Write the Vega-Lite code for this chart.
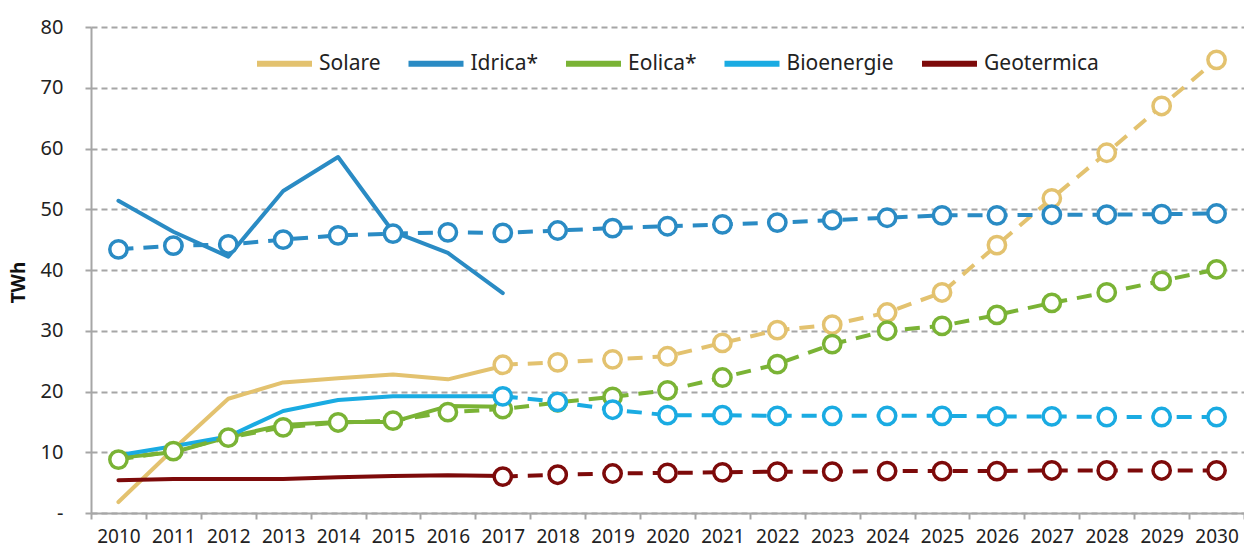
{
  "$schema": "https://vega.github.io/schema/vega-lite/v6.json",
  "width": 1153,
  "height": 486,
  "autosize": {"type": "none"},
  "padding": {"left": 91, "top": 27, "right": 0, "bottom": 37},
  "background": "white",
  "config": {
    "view": {"stroke": null},
    "font": "Noto Sans"
  },
  "datasets": {
    "hist": [
      {"year": "2010", "series": "Solare", "value": 1.8},
      {"year": "2011", "series": "Solare", "value": 10.5},
      {"year": "2012", "series": "Solare", "value": 18.8},
      {"year": "2013", "series": "Solare", "value": 21.5},
      {"year": "2014", "series": "Solare", "value": 22.2},
      {"year": "2015", "series": "Solare", "value": 22.8},
      {"year": "2016", "series": "Solare", "value": 22.0},
      {"year": "2017", "series": "Solare", "value": 24.2},
      {"year": "2010", "series": "Idrica*", "value": 51.4},
      {"year": "2011", "series": "Idrica*", "value": 46.3},
      {"year": "2012", "series": "Idrica*", "value": 42.2},
      {"year": "2013", "series": "Idrica*", "value": 53.0},
      {"year": "2014", "series": "Idrica*", "value": 58.6},
      {"year": "2015", "series": "Idrica*", "value": 46.3},
      {"year": "2016", "series": "Idrica*", "value": 42.8},
      {"year": "2017", "series": "Idrica*", "value": 36.2},
      {"year": "2010", "series": "Eolica*", "value": 9.1},
      {"year": "2011", "series": "Eolica*", "value": 10.0},
      {"year": "2012", "series": "Eolica*", "value": 12.5},
      {"year": "2013", "series": "Eolica*", "value": 14.5},
      {"year": "2014", "series": "Eolica*", "value": 15.0},
      {"year": "2015", "series": "Eolica*", "value": 15.0},
      {"year": "2016", "series": "Eolica*", "value": 17.6},
      {"year": "2017", "series": "Eolica*", "value": 17.5},
      {"year": "2010", "series": "Bioenergie", "value": 9.5},
      {"year": "2011", "series": "Bioenergie", "value": 11.0},
      {"year": "2012", "series": "Bioenergie", "value": 12.6},
      {"year": "2013", "series": "Bioenergie", "value": 16.8},
      {"year": "2014", "series": "Bioenergie", "value": 18.6},
      {"year": "2015", "series": "Bioenergie", "value": 19.2},
      {"year": "2016", "series": "Bioenergie", "value": 19.2},
      {"year": "2017", "series": "Bioenergie", "value": 19.2},
      {"year": "2010", "series": "Geotermica", "value": 5.4},
      {"year": "2011", "series": "Geotermica", "value": 5.6},
      {"year": "2012", "series": "Geotermica", "value": 5.6},
      {"year": "2013", "series": "Geotermica", "value": 5.6},
      {"year": "2014", "series": "Geotermica", "value": 5.9},
      {"year": "2015", "series": "Geotermica", "value": 6.1},
      {"year": "2016", "series": "Geotermica", "value": 6.2},
      {"year": "2017", "series": "Geotermica", "value": 6.1}
    ],
    "proj": [
      {"year": "2017", "series": "Solare", "value": 24.4},
      {"year": "2018", "series": "Solare", "value": 24.8},
      {"year": "2019", "series": "Solare", "value": 25.3},
      {"year": "2020", "series": "Solare", "value": 25.8},
      {"year": "2021", "series": "Solare", "value": 28.0},
      {"year": "2022", "series": "Solare", "value": 30.1},
      {"year": "2023", "series": "Solare", "value": 31.0},
      {"year": "2024", "series": "Solare", "value": 33.0},
      {"year": "2025", "series": "Solare", "value": 36.3},
      {"year": "2026", "series": "Solare", "value": 44.1},
      {"year": "2027", "series": "Solare", "value": 51.8},
      {"year": "2028", "series": "Solare", "value": 59.3},
      {"year": "2029", "series": "Solare", "value": 67.0},
      {"year": "2030", "series": "Solare", "value": 74.6},
      {"year": "2010", "series": "Idrica*", "value": 43.4},
      {"year": "2011", "series": "Idrica*", "value": 44.0},
      {"year": "2012", "series": "Idrica*", "value": 44.2},
      {"year": "2013", "series": "Idrica*", "value": 45.0},
      {"year": "2014", "series": "Idrica*", "value": 45.7},
      {"year": "2015", "series": "Idrica*", "value": 46.0},
      {"year": "2016", "series": "Idrica*", "value": 46.2},
      {"year": "2017", "series": "Idrica*", "value": 46.1},
      {"year": "2018", "series": "Idrica*", "value": 46.5},
      {"year": "2019", "series": "Idrica*", "value": 46.9},
      {"year": "2020", "series": "Idrica*", "value": 47.2},
      {"year": "2021", "series": "Idrica*", "value": 47.5},
      {"year": "2022", "series": "Idrica*", "value": 47.8},
      {"year": "2023", "series": "Idrica*", "value": 48.2},
      {"year": "2024", "series": "Idrica*", "value": 48.6},
      {"year": "2025", "series": "Idrica*", "value": 49.0},
      {"year": "2026", "series": "Idrica*", "value": 49.0},
      {"year": "2027", "series": "Idrica*", "value": 49.1},
      {"year": "2028", "series": "Idrica*", "value": 49.1},
      {"year": "2029", "series": "Idrica*", "value": 49.2},
      {"year": "2030", "series": "Idrica*", "value": 49.3},
      {"year": "2010", "series": "Eolica*", "value": 8.8},
      {"year": "2011", "series": "Eolica*", "value": 10.2},
      {"year": "2012", "series": "Eolica*", "value": 12.4},
      {"year": "2013", "series": "Eolica*", "value": 14.1},
      {"year": "2014", "series": "Eolica*", "value": 14.9},
      {"year": "2015", "series": "Eolica*", "value": 15.2},
      {"year": "2016", "series": "Eolica*", "value": 16.6},
      {"year": "2017", "series": "Eolica*", "value": 17.1},
      {"year": "2018", "series": "Eolica*", "value": 18.2},
      {"year": "2019", "series": "Eolica*", "value": 19.1},
      {"year": "2020", "series": "Eolica*", "value": 20.2},
      {"year": "2021", "series": "Eolica*", "value": 22.3},
      {"year": "2022", "series": "Eolica*", "value": 24.5},
      {"year": "2023", "series": "Eolica*", "value": 27.8},
      {"year": "2024", "series": "Eolica*", "value": 30.0},
      {"year": "2025", "series": "Eolica*", "value": 30.8},
      {"year": "2026", "series": "Eolica*", "value": 32.6},
      {"year": "2027", "series": "Eolica*", "value": 34.6},
      {"year": "2028", "series": "Eolica*", "value": 36.3},
      {"year": "2029", "series": "Eolica*", "value": 38.2},
      {"year": "2030", "series": "Eolica*", "value": 40.1},
      {"year": "2017", "series": "Bioenergie", "value": 19.2},
      {"year": "2018", "series": "Bioenergie", "value": 18.3},
      {"year": "2019", "series": "Bioenergie", "value": 17.0},
      {"year": "2020", "series": "Bioenergie", "value": 16.1},
      {"year": "2021", "series": "Bioenergie", "value": 16.1},
      {"year": "2022", "series": "Bioenergie", "value": 16.0},
      {"year": "2023", "series": "Bioenergie", "value": 16.0},
      {"year": "2024", "series": "Bioenergie", "value": 16.0},
      {"year": "2025", "series": "Bioenergie", "value": 16.0},
      {"year": "2026", "series": "Bioenergie", "value": 15.9},
      {"year": "2027", "series": "Bioenergie", "value": 15.9},
      {"year": "2028", "series": "Bioenergie", "value": 15.8},
      {"year": "2029", "series": "Bioenergie", "value": 15.8},
      {"year": "2030", "series": "Bioenergie", "value": 15.8},
      {"year": "2017", "series": "Geotermica", "value": 6.0},
      {"year": "2018", "series": "Geotermica", "value": 6.3},
      {"year": "2019", "series": "Geotermica", "value": 6.5},
      {"year": "2020", "series": "Geotermica", "value": 6.6},
      {"year": "2021", "series": "Geotermica", "value": 6.7},
      {"year": "2022", "series": "Geotermica", "value": 6.8},
      {"year": "2023", "series": "Geotermica", "value": 6.8},
      {"year": "2024", "series": "Geotermica", "value": 6.9},
      {"year": "2025", "series": "Geotermica", "value": 6.9},
      {"year": "2026", "series": "Geotermica", "value": 6.9},
      {"year": "2027", "series": "Geotermica", "value": 7.0},
      {"year": "2028", "series": "Geotermica", "value": 7.0},
      {"year": "2029", "series": "Geotermica", "value": 7.0},
      {"year": "2030", "series": "Geotermica", "value": 7.0}
    ]
  },
  "encoding": {
    "x": {
      "field": "year", "type": "ordinal",
      "scale": {"type": "band", "paddingInner": 0, "paddingOuter": 0,
        "domain": ["2010","2011","2012","2013","2014","2015","2016","2017","2018","2019","2020","2021","2022","2023","2024","2025","2026","2027","2028","2029","2030"]},
      "axis": {
        "title": null, "labelAngle": 0, "tickBand": "extent", "grid": false,
        "domainColor": "#a6a6a6", "domainWidth": 2, "tickColor": "#a6a6a6", "tickWidth": 2, "tickSize": 6,
        "labelFontSize": 19, "labelColor": "#222", "labelPadding": 8, "labelFont": "Noto Sans"
      }
    },
    "y": {
      "field": "value", "type": "quantitative",
      "scale": {"domain": [0, 80], "nice": false},
      "axis": {
        "title": "TWh", "titleFontSize": 19, "titleFontWeight": "bold", "titleColor": "#111",
        "titleX": -63, "titleY": 255, "titleAnchor": null,
        "values": [0,10,20,30,40,50,60,70,80],
        "labelExpr": "datum.value == 0 ? '-' : datum.label",
        "labelFontSize": 20, "labelColor": "#222", "labelPadding": 20,
        "domainColor": "#a6a6a6", "domainWidth": 2,
        "tickColor": "#a6a6a6", "tickSize": 8, "tickWidth": 2, "tickDash": [6, 4],
        "grid": true, "gridColor": "#a6a6a6", "gridWidth": 2, "gridDash": [6, 4]
      }
    },
    "color": {
      "field": "series", "type": "nominal",
      "scale": {
        "domain": ["Solare", "Idrica*", "Eolica*", "Bioenergie", "Geotermica"],
        "range": ["#E3C26F", "#2A8BC4", "#7AB335", "#1AABE2", "#7D0A0A"]
      }
    }
  },
  "layer": [
    {
      "data": {"name": "hist"},
      "mark": {"type": "line", "strokeWidth": 4, "strokeCap": "round", "strokeJoin": "round"},
      "encoding": {
        "color": {
          "field": "series", "type": "nominal",
          "legend": {
            "title": null, "orient": "none", "direction": "horizontal",
            "legendX": 163, "legendY": 6,
            "symbolType": "stroke", "symbolSize": 3025, "symbolStrokeWidth": 6,
            "labelFontSize": 21, "labelColor": "#222", "labelOffset": 4,
            "columnPadding": 15.5, "labelLimit": 300
          }
        }
      }
    },
    {
      "data": {"name": "proj"},
      "mark": {"type": "line", "strokeWidth": 4, "strokeDash": [15, 10]},
      "encoding": {"color": {"field": "series", "type": "nominal", "legend": null}}
    },
    {
      "data": {"name": "proj"},
      "mark": {"type": "point", "shape": "circle", "filled": false, "fill": "white", "fillOpacity": 1, "size": 300, "strokeWidth": 3.5, "opacity": 1},
      "encoding": {"color": {"field": "series", "type": "nominal", "legend": null}}
    }
  ],
  "resolve": {"legend": {"color": "independent"}}
}
